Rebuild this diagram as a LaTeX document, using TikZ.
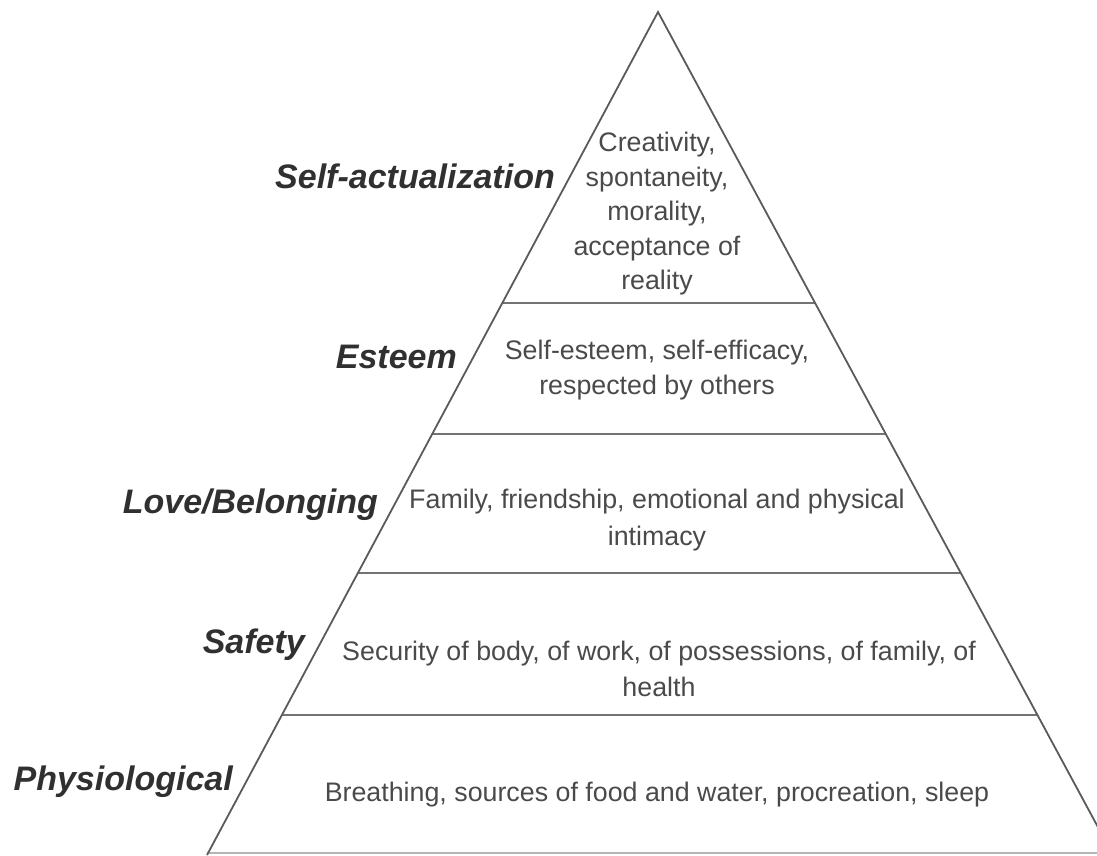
\documentclass[tikz,border=0pt]{standalone}
\usepackage{fontspec}
\setmainfont{Liberation Sans}
\usetikzlibrary{calc}
\definecolor{edgegray}{HTML}{5A5A5A}
\definecolor{bodygray}{HTML}{4A4A4A}
\definecolor{labelgray}{HTML}{303030}
\begin{document}
\begin{tikzpicture}[x=1pt,y=-1pt,
  edge/.style={draw=edgegray,line width=1.8pt},
  tier/.style={draw=edgegray!85,line width=2.2pt},
  body/.style={text=bodygray,align=center,inner sep=0pt,font=\fontsize{26.8}{34.5}\selectfont},
  lvl/.style={text=labelgray,anchor=base east,inner sep=0pt,font=\fontsize{34}{40}\selectfont\bfseries\itshape}]
\useasboundingbox (0,0) rectangle (1097,856);
\clip (0,0) rectangle (1097,856);
\coordinate (apex) at (658,12);
\coordinate (bl) at (207,855);
\coordinate (br) at (1113,855);
% tier lines
\draw[tier] ($(apex)!0.3452!(bl)$) coordinate (l1) -- ($(apex)!0.3452!(br)$) coordinate (r1);
\draw[tier] ($(apex)!0.5006!(bl)$) coordinate (l2) -- ($(apex)!0.5006!(br)$) coordinate (r2);
\draw[tier] ($(apex)!0.6655!(bl)$) coordinate (l3) -- ($(apex)!0.6655!(br)$) coordinate (r3);
\draw[tier] ($(apex)!0.8339!(bl)$) coordinate (l4) -- ($(apex)!0.8339!(br)$) coordinate (r4);
\draw[draw=edgegray!45,line width=2pt] ($(bl)+(0,-2)$) coordinate (b0) -- ($(br)+(0,-2)$) coordinate (b1);
% triangle sides
\draw[edge] (bl) -- (apex) -- (br);
% contents
\node[body] (t1) at (657,214) {Creativity,\\spontaneity,\\morality,\\acceptance of\\reality};
\node[body] (t2) at (657,370) {Self-esteem, self-efficacy,\\respected by others};
\node[body,font=\fontsize{26.8}{36.5}\selectfont] (t3) at (657,520) {Family, friendship, emotional and physical\\intimacy};
\node[body,font=\fontsize{26.8}{36}\selectfont] (t4) at (659,669) {Security of body, of work, of possessions, of family, of\\health};
\node[body] (t5) at (657,795) {Breathing, sources of food and water, procreation, sleep};
% level labels
\node[lvl] (n1) at (555,188) {Self-actualization};
\node[lvl] (n2) at (457,368) {Esteem};
\node[lvl] (n3) at (378,513) {Love/Belonging};
\node[lvl] (n4) at (305,653) {Safety};
\node[lvl] (n5) at (233,790) {Physiological};
\end{tikzpicture}
\end{document}
